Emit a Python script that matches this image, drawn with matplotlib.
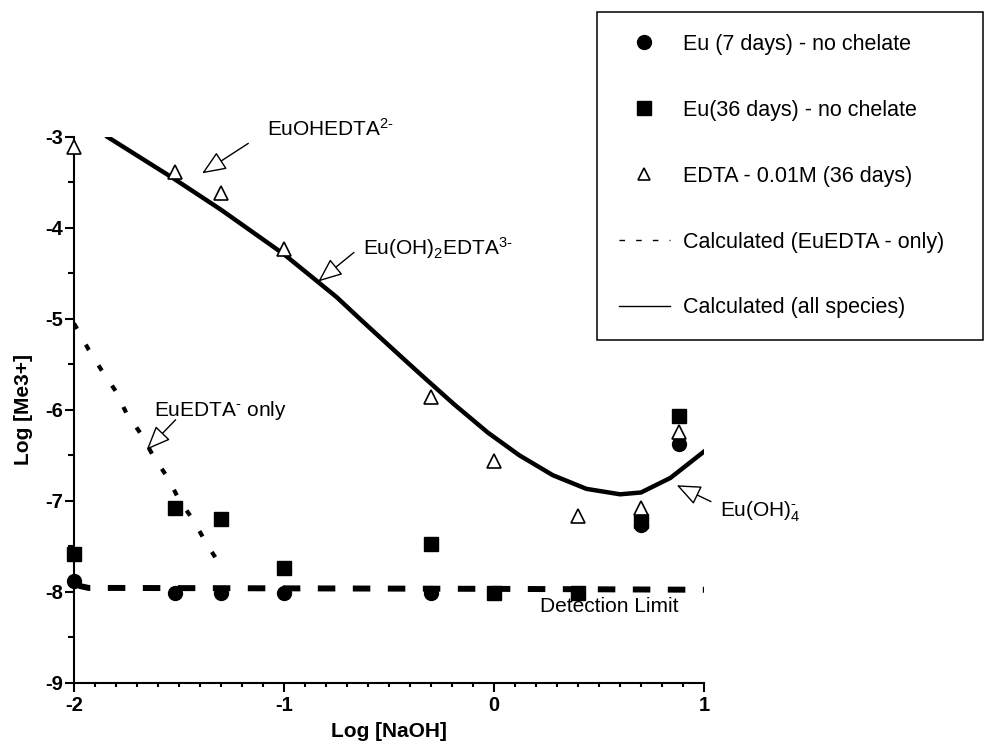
import matplotlib
matplotlib.use("Agg")
import matplotlib.pyplot as plt
from matplotlib.lines import Line2D
from matplotlib.ticker import MultipleLocator

plt.rcParams['font.family'] = ['Liberation Sans', 'DejaVu Sans']
plt.rcParams['mathtext.fontset'] = 'custom'
plt.rcParams['mathtext.rm'] = 'Liberation Sans'
plt.rcParams['mathtext.it'] = 'Liberation Sans:italic'
plt.rcParams['mathtext.bf'] = 'Liberation Sans:bold'
plt.rcParams['axes.unicode_minus'] = False
plt.rcParams['lines.scale_dashes'] = False

# measured points
eu7_x = [-2.0, -1.52, -1.30, -1.0, -0.30, 0.70, 0.88]
eu7_y = [-7.88, -8.02, -8.02, -8.02, -8.02, -7.27, -6.38]

eu36_x = [-2.0, -1.52, -1.30, -1.0, -0.30, 0.0, 0.40, 0.70, 0.88]
eu36_y = [-7.59, -7.08, -7.20, -7.74, -7.48, -8.02, -8.02, -7.22, -6.07]

edta_x = [-2.0, -1.52, -1.30, -1.0, -0.30, 0.0, 0.40, 0.70, 0.88]
edta_y = [-3.11, -3.38, -3.62, -4.23, -5.86, -6.56, -7.17, -7.08, -6.24]

# calculated, all species
calc_x = [-1.84, -1.53, -1.30, -1.00, -0.75, -0.62, -0.45, -0.35, -0.19,
          -0.03, 0.12, 0.28, 0.44, 0.60, 0.70, 0.84, 1.00]
calc_y = [-3.00, -3.45, -3.80, -4.29, -4.76, -5.04, -5.40, -5.61, -5.94,
          -6.25, -6.50, -6.72, -6.87, -6.93, -6.91, -6.75, -6.46]

# calculated, EuEDTA- only
only_x = [-2.00, -1.93, -1.87, -1.80, -1.75, -1.68, -1.62, -1.55, -1.50, -1.43, -1.37, -1.30]
only_y = [-5.05, -5.34, -5.56, -5.80, -6.04, -6.27, -6.52, -6.76, -6.99, -7.22, -7.47, -7.72]

# detection limit line
det_x = [-2.00, -1.97, -1.93, -1.80, 0.00, 1.00]
det_y = [-7.90, -7.94, -7.96, -7.96, -7.97, -7.98]

legend_labels = ['Eu (7 days) - no chelate', 'Eu(36 days) - no chelate',
                 'EDTA - 0.01M (36 days)', 'Calculated (EuEDTA - only)',
                 'Calculated (all species)']

fig = plt.figure(figsize=(9.85, 7.45), dpi=100)
ax = fig.add_axes([74 / 985, 1 - 682.5 / 745, 630 / 985, 545.5 / 745])

ax.plot(det_x, det_y, color='black', lw=4.3, dashes=(12.6, 12.6), solid_capstyle='butt')
ax.plot(only_x, only_y, color='black', lw=3, dashes=(4.5, 13), solid_capstyle='butt')
ax.plot(calc_x, calc_y, color='black', lw=3.2, solid_joinstyle='round')

ax.plot(eu7_x, eu7_y, 'o', color='black', ms=10, clip_on=False, zorder=4)
ax.plot(eu36_x, eu36_y, 's', color='black', ms=10, clip_on=False, zorder=4)
ax.plot(edta_x, edta_y, '^', mfc='white', mec='black', mew=1.2, ms=9.5,
        clip_on=False, zorder=5)

ax.set_xlim(-2, 1)
ax.set_ylim(-9, -3)
for s in ['top', 'right']:
    ax.spines[s].set_visible(False)
for s in ['left', 'bottom']:
    ax.spines[s].set_linewidth(1.5)
ax.xaxis.set_major_locator(MultipleLocator(1))
ax.xaxis.set_minor_locator(MultipleLocator(0.1))
ax.yaxis.set_major_locator(MultipleLocator(1))
ax.yaxis.set_minor_locator(MultipleLocator(0.5))
ax.tick_params(axis='x', which='major', length=6.5, width=1.5, pad=3, labelsize=14.5)
ax.tick_params(axis='x', which='minor', length=3, width=1.5)
ax.tick_params(axis='y', which='major', length=6.5, width=1.5, pad=1.5, labelsize=14.5)
ax.tick_params(axis='y', which='minor', length=4.5, width=1.5)
for lab in ax.get_xticklabels() + ax.get_yticklabels():
    lab.set_fontweight('bold')

ax.set_xlabel('Log [NaOH]', fontsize=15, fontweight='bold')
ax.set_ylabel('Log [Me3+]', fontsize=15, fontweight='bold')
ax.xaxis.set_label_coords(0.5, -0.072)
ax.yaxis.set_label_coords(-0.065, 0.5)

arrow = dict(arrowstyle='-|>,head_length=0.6,head_width=0.25', mutation_scale=25,
             fc='white', ec='black', lw=1, shrinkA=0, shrinkB=0)
ax.annotate('', xy=(-1.39, -3.40), xytext=(-1.17, -3.07), arrowprops=arrow, annotation_clip=False)
ax.annotate('', xy=(-0.837, -4.59), xytext=(-0.667, -4.27), arrowprops=arrow)
ax.annotate('', xy=(-1.654, -6.44), xytext=(-1.516, -6.11), arrowprops=arrow)
ax.annotate('', xy=(0.87, -6.83), xytext=(1.033, -7.01), arrowprops=arrow, annotation_clip=False)

ax.text(-1.081, -2.985, r'EuOHEDTA$^{\text{2-}}$', fontsize=15, va='baseline', clip_on=False)
ax.text(-0.624, -4.30, r'Eu(OH)$_2$EDTA$^{\text{3-}}$', fontsize=15, va='baseline')
ax.text(-1.619, -6.07, r'EuEDTA$^{\text{-}}$ only', fontsize=15, va='baseline')
ax.text(1.076, -7.17, r'Eu(OH)$_4^{\text{-}}$', fontsize=15, va='baseline', clip_on=False)
ax.text(0.219, -8.23, 'Detection Limit', fontsize=15, va='baseline')

handles = [
    Line2D([], [], ls='none', marker='o', color='black', ms=10),
    Line2D([], [], ls='none', marker='s', color='black', ms=10),
    Line2D([], [], ls='none', marker='^', mfc='white', mec='black', mew=1.2, ms=8),
    Line2D([], [], color='black', lw=1, dashes=(4, 8)),
    Line2D([], [], color='black', lw=1),
]
leg = fig.legend(handles, legend_labels, loc='upper left',
                 bbox_to_anchor=(597 / 985, 1 - 343 / 745, 386 / 985, 331 / 745),
                 mode='expand', fontsize=15.5, frameon=True, fancybox=False,
                 edgecolor='black', framealpha=1, labelspacing=2.09, borderpad=1.0,
                 borderaxespad=0, handlelength=2.4, handletextpad=0.6, numpoints=1)
leg.get_frame().set_linewidth(1.1)

fig.savefig('out.png', dpi=100)
